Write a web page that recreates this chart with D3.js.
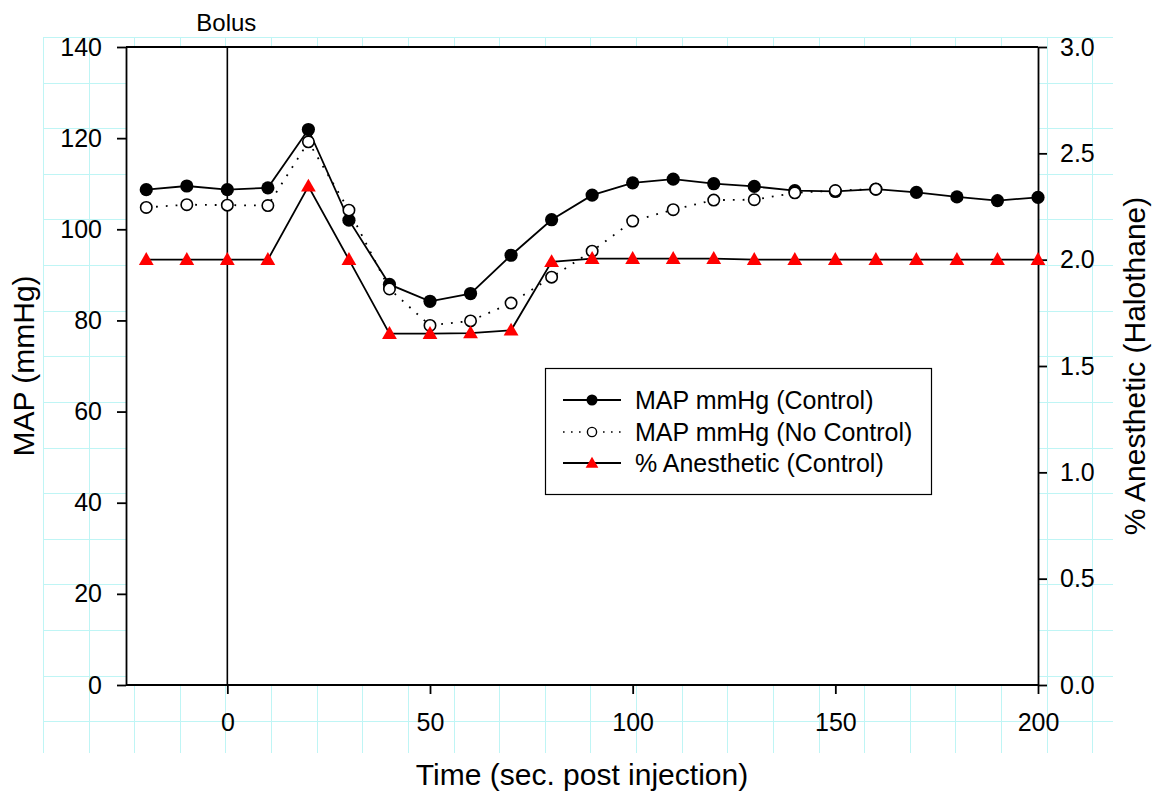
<!DOCTYPE html>
<html>
<head>
<meta charset="utf-8">
<script src="https://cdn.jsdelivr.net/npm/d3@7/dist/d3.min.js"></script>
<style>
  html, body { margin: 0; padding: 0; background: #fff; }
  svg { display: block; font-family: "Liberation Sans", Arial, Helvetica, sans-serif; }
</style>
</head>
<body>
<svg id="chart" width="1159" height="803"></svg>
<script>
// ---- Data ----
const timeControl = [-20, -10, 0, 10, 20, 30, 40, 50, 60, 70, 80, 90, 100, 110, 120, 130, 140, 150, 160, 170, 180, 190, 200];
const mapControl = [108.7, 109.5, 108.7, 109.1, 121.9, 102.0, 87.9, 84.2, 85.9, 94.3, 102.1, 107.5, 110.2, 111.0, 110.0, 109.4, 108.5, 108.3, 108.8, 108.1, 107.1, 106.3, 107.0];
const timeNoControl = [-20, -10, 0, 10, 20, 30, 40, 50, 60, 70, 80, 90, 100, 110, 120, 130, 140, 150, 160];
const mapNoControl = [104.8, 105.4, 105.3, 105.2, 119.2, 104.2, 86.9, 78.9, 79.9, 83.8, 89.5, 95.2, 101.8, 104.3, 106.4, 106.5, 108.0, 108.5, 108.8];
const timeAnesthetic = [-20, -10, 0, 10, 20, 30, 40, 50, 60, 70, 80, 90, 100, 110, 120, 130, 140, 150, 160, 170, 180, 190, 200];
const anesthetic = [2.0, 2.0, 2.0, 2.0, 2.345, 2.0, 1.652, 1.652, 1.655, 1.668, 1.99, 2.005, 2.005, 2.005, 2.005, 2.0, 2.0, 2.0, 2.0, 2.0, 2.0, 2.0, 2.0];

const xTicks = [0, 50, 100, 150, 200];
const yLeftTicks = [0, 20, 40, 60, 80, 100, 120, 140];
const yRightTicks = [0.0, 0.5, 1.0, 1.5, 2.0, 2.5, 3.0];
const bolusTime = [0];
const legendLabels = ["MAP mmHg (Control)", "MAP mmHg (No Control)", "% Anesthetic (Control)"];

// ---- Layout ----
const svg = d3.select("#chart");
const L = 126, R = 1038, T = 47, B = 685;
const grid = { x0: 43, y0: 37, x1: 1113, y1: 753, step: 45.62 };
const gridColor = "#bff5f5";

const x = d3.scaleLinear().domain([-25, 200]).range([L, R]);
const yL = d3.scaleLinear().domain([0, 140]).range([B, T]);
const yR = d3.scaleLinear().domain([0, 3]).range([B, T]);

// Background page grid
const gG = svg.append("g").attr("stroke", gridColor).attr("stroke-width", 1);
d3.range(grid.x0, grid.x1, grid.step).forEach(gx => {
  gG.append("line").attr("x1", Math.round(gx) + 0.5).attr("x2", Math.round(gx) + 0.5)
    .attr("y1", grid.y0).attr("y2", grid.y1);
});
d3.range(grid.y0, grid.y1, grid.step).forEach(gy => {
  gG.append("line").attr("y1", Math.round(gy) + 0.5).attr("y2", Math.round(gy) + 0.5)
    .attr("x1", grid.x0).attr("x2", grid.x1);
});

// White plot area
svg.append("rect").attr("x", L).attr("y", T).attr("width", R - L).attr("height", B - T).attr("fill", "#fff");

// Axes
const tickFont = 25;
const axStroke = 1.8;

const gx = svg.append("g").attr("transform", `translate(0,${B})`)
  .call(d3.axisBottom(x).tickValues(xTicks).tickSizeInner(9).tickSizeOuter(0).tickPadding(19).tickFormat(d3.format("d")));
const gyl = svg.append("g").attr("transform", `translate(${L},0)`)
  .call(d3.axisLeft(yL).tickValues(yLeftTicks).tickSizeInner(9).tickSizeOuter(0).tickPadding(15).tickFormat(d3.format("d")));
const gyr = svg.append("g").attr("transform", `translate(${R},0)`)
  .call(d3.axisRight(yR).tickValues(yRightTicks).tickSizeInner(9).tickSizeOuter(0).tickPadding(13).tickFormat(d3.format(".1f")));
const gxt = svg.append("g").attr("transform", `translate(0,${T})`)
  .call(d3.axisTop(x).tickValues([]).tickSizeOuter(0));

[gx, gyl, gyr, gxt].forEach(g => {
  g.selectAll("path.domain").attr("stroke", "#000").attr("stroke-width", axStroke);
  g.selectAll(".tick line").attr("stroke", "#000").attr("stroke-width", axStroke);
  g.selectAll(".tick text").attr("fill", "#000").style("font-size", tickFont + "px")
    .style("font-family", "'Liberation Sans', Arial, sans-serif");
});
gx.select("path.domain").attr("d", `M${L},0H${R}`);
gxt.select("path.domain").attr("d", `M${L},0H${R}`);

// Bolus line
svg.selectAll("line.bolus").data(bolusTime).enter().append("line")
  .attr("class", "bolus")
  .attr("x1", d => x(d)).attr("x2", d => x(d))
  .attr("y1", T).attr("y2", B)
  .attr("stroke", "#000").attr("stroke-width", 1.6);
svg.selectAll("text.bolus").data(bolusTime).enter().append("text")
  .attr("class", "bolus")
  .attr("x", d => x(d) - 1).attr("y", 31)
  .attr("text-anchor", "middle")
  .style("font-size", "24px")
  .text("Bolus");

// Lines
const lineL = d3.line().x(d => x(d[0])).y(d => yL(d[1]));
const lineR = d3.line().x(d => x(d[0])).y(d => yR(d[1]));

const ctrlPts = timeControl.map((t, i) => [t, mapControl[i]]);
const noCtrlPts = timeNoControl.map((t, i) => [t, mapNoControl[i]]);
const anPts = timeAnesthetic.map((t, i) => [t, anesthetic[i]]);

const triPath = d3.symbol().type(d3.symbolTriangle).size(95)();

svg.append("path").attr("d", lineR(anPts)).attr("fill", "none").attr("stroke", "#000").attr("stroke-width", 1.8);
svg.append("path").attr("d", lineL(ctrlPts)).attr("fill", "none").attr("stroke", "#000").attr("stroke-width", 1.8);
svg.selectAll("circle.ctrl").data(ctrlPts).enter().append("circle")
  .attr("class", "ctrl").attr("cx", d => x(d[0])).attr("cy", d => yL(d[1])).attr("r", 6.6).attr("fill", "#000");
svg.append("path").attr("d", lineL(noCtrlPts)).attr("fill", "none").attr("stroke", "#000")
  .attr("stroke-width", 1.8).attr("stroke-dasharray", "1.8,8");
svg.selectAll("circle.noctrl").data(noCtrlPts).enter().append("circle")
  .attr("class", "noctrl").attr("cx", d => x(d[0])).attr("cy", d => yL(d[1])).attr("r", 5.7)
  .attr("fill", "#fff").attr("stroke", "#000").attr("stroke-width", 1.6);
svg.selectAll("path.tri").data(anPts).enter().append("path")
  .attr("class", "tri").attr("d", triPath)
  .attr("transform", d => `translate(${x(d[0])},${yR(d[1]) + 1})`)
  .attr("fill", "#ff0000");

// Axis titles
svg.append("text").attr("x", (L + R) / 2).attr("y", 785).attr("text-anchor", "middle")
  .style("font-size", "30px").text("Time (sec. post injection)");
svg.append("text").attr("transform", `translate(34,${(T + B) / 2}) rotate(-90)`).attr("text-anchor", "middle")
  .style("font-size", "30px").text("MAP (mmHg)");
svg.append("text").attr("transform", `translate(1145,${(T + B) / 2}) rotate(-90)`).attr("text-anchor", "middle")
  .style("font-size", "30px").text("% Anesthetic (Halothane)");

// Legend
const lg = svg.append("g");
lg.append("rect").attr("x", 545.5).attr("y", 368.5).attr("width", 386).attr("height", 126)
  .attr("fill", "#fff").attr("stroke", "#000").attr("stroke-width", 1.2);
const rowY = [400, 432, 463];
const lx1 = 563, lx2 = 621, lmx = 592;
legendLabels.forEach((lab, i) => {
  const yy = rowY[i];
  const ln = lg.append("line").attr("x1", lx1).attr("x2", lx2).attr("y1", yy).attr("y2", yy)
    .attr("stroke", "#000").attr("stroke-width", i === 1 ? 1.6 : 1.8);
  if (i === 1) ln.attr("stroke-dasharray", "1.6,6.4");
  if (i === 0) lg.append("circle").attr("cx", lmx).attr("cy", yy).attr("r", 5.5).attr("fill", "#000");
  if (i === 1) lg.append("circle").attr("cx", lmx).attr("cy", yy).attr("r", 4.6).attr("fill", "#fff").attr("stroke", "#000").attr("stroke-width", 1.4);
  if (i === 2) lg.append("path").attr("d", d3.symbol().type(d3.symbolTriangle).size(70)()).attr("transform", `translate(${lmx},${yy + 1})`).attr("fill", "#ff0000");
  lg.append("text").attr("x", 635).attr("y", yy).attr("dy", "0.35em").style("font-size", "25px").text(lab);
});
</script>
</body>
</html>
